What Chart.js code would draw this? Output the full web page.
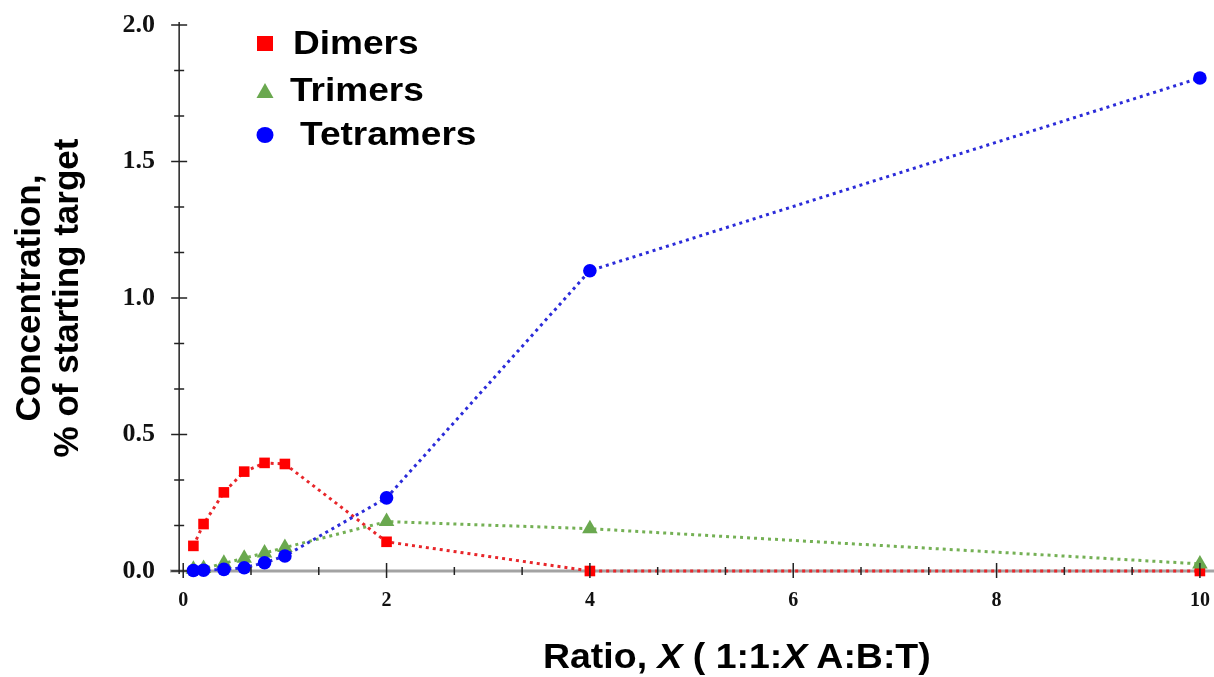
<!DOCTYPE html>
<html>
<head>
<meta charset="utf-8">
<script src="https://cdn.jsdelivr.net/npm/chart.js@4/dist/chart.umd.min.js"></script>
<style>
  body { margin: 0; background: #fff; }
  #wrap { position: relative; width: 1214px; height: 677px; }
  #xTitle {
    position: absolute; left: 543px; top: 636px; line-height: 40px;
    font: bold 35px "Liberation Sans", Arial, sans-serif; white-space: nowrap; color: #000;
    transform: scaleX(1.07); transform-origin: left center;
  }
</style>
</head>
<body>
<div id="wrap">
  <canvas id="myChart" width="1214" height="677"></canvas>
  <div id="xTitle">Ratio, <i>X</i> ( 1:1:<i>X</i> A:B:T)</div>
</div>
<script>
// values
var ratios = [0.1, 0.2, 0.4, 0.6, 0.8, 1, 2, 4, 10];
var dimers = [0.092, 0.172, 0.288, 0.364, 0.396, 0.392, 0.107, 0.0, 0.0];
var trimers = [0.006, 0.009, 0.028, 0.047, 0.066, 0.086, 0.181, 0.155, 0.026];
var tetramers = [0.002, 0.003, 0.006, 0.012, 0.03, 0.055, 0.268, 1.10, 1.806];

var seriesNames = ['Dimers', 'Trimers', 'Tetramers'];
var xTickValues = [0, 2, 4, 6, 8, 10];
var yTickValues = [0, 0.5, 1.0, 1.5, 2.0];

var serif = '"Liberation Serif", "Times New Roman", serif';
var sans = '"Liberation Sans", Arial, sans-serif';

function pairs(ys) {
  return ratios.map((x, i) => ({ x: x, y: ys[i] }));
}

// axis lines under the data, tick marks over it
var axesPlugin = {
  id: 'axes',
  beforeDatasetsDraw(chart) {
    var ctx = chart.ctx, xs = chart.scales.x, ys = chart.scales.y, area = chart.chartArea;
    var y0 = ys.getPixelForValue(0);
    var xAxisAt = xs.getPixelForValue(-0.04);
    ctx.save();
    ctx.strokeStyle = '#a3a3a3';
    ctx.lineWidth = 3;
    ctx.beginPath();
    ctx.moveTo(area.left, y0);
    ctx.lineTo(chart.width, y0);
    ctx.stroke();
    ctx.strokeStyle = '#222';
    ctx.lineWidth = 1.5;
    ctx.beginPath();
    ctx.moveTo(xAxisAt, ys.getPixelForValue(2) - 3);
    ctx.lineTo(xAxisAt, y0 + 3);
    ctx.stroke();
    ctx.restore();
  },
  afterDatasetsDraw(chart) {
    var ctx = chart.ctx, xs = chart.scales.x, ys = chart.scales.y;
    var y0 = ys.getPixelForValue(0);
    var xAxisAt = xs.getPixelForValue(-0.04);
    ctx.save();
    ctx.strokeStyle = '#222';
    ctx.lineWidth = 1.5;
    for (var k = 0; k <= 15; k++) {
      var px = xs.getPixelForValue(k * 2 / 3);
      var major = k % 3 === 0;
      ctx.beginPath();
      ctx.moveTo(px, y0 - (major ? 8 : 4));
      ctx.lineTo(px, y0 + (major ? 7 : 4));
      ctx.stroke();
    }
    for (var j = 0; j <= 12; j++) {
      var py = ys.getPixelForValue(j / 6);
      var maj = j % 3 === 0;
      ctx.beginPath();
      ctx.moveTo(xAxisAt - (maj ? 8 : 5), py);
      ctx.lineTo(xAxisAt + (maj ? 8 : 5), py);
      ctx.stroke();
    }
    ctx.restore();
  }
};

// legend placed inside the plot, top left
var legendPlugin = {
  id: 'insideLegend',
  afterDraw(chart) {
    var ctx = chart.ctx;
    var rows = [44, 91, 135];
    var textX = [293, 290, 300];
    ctx.save();
    ctx.font = 'bold 34px ' + sans;
    ctx.textBaseline = 'middle';
    seriesNames.forEach((name, i) => {
      var ds = chart.data.datasets.find(d => d.label === name);
      var cx = 265, cy = rows[i];
      ctx.fillStyle = ds.backgroundColor;
      ctx.beginPath();
      if (ds.pointStyle === 'rect') {
        ctx.rect(cx - 8, cy - 8, 16, 15);
      } else if (ds.pointStyle === 'triangle') {
        ctx.moveTo(cx, cy - 8);
        ctx.lineTo(cx + 8.5, cy + 7);
        ctx.lineTo(cx - 8.5, cy + 7);
        ctx.closePath();
      } else {
        ctx.ellipse(cx, cy, 8.5, 8, 0, 0, Math.PI * 2);
      }
      ctx.fill();
      ctx.fillStyle = '#000';
      ctx.save();
      ctx.translate(textX[i], cy + 1);
      ctx.scale(1.09, 1);
      ctx.fillText(name, 0, 0);
      ctx.restore();
    });
    ctx.restore();
  }
};

var ctx = document.getElementById('myChart').getContext('2d');
var myChart = new Chart(ctx, {
  type: 'line',
  data: {
    datasets: [
      {
        label: 'Dimers',
        data: pairs(dimers),
        borderColor: '#e8262a',
        backgroundColor: '#ff0000',
        pointStyle: 'rect',
        pointRadius: 7.5,
        order: 3
      },
      {
        label: 'Tetramers',
        data: pairs(tetramers),
        borderColor: '#2b2bd9',
        backgroundColor: '#0000ff',
        pointStyle: 'circle',
        pointRadius: 6.8,
        order: 1
      },
      {
        label: 'Trimers',
        data: pairs(trimers),
        borderColor: '#74b054',
        backgroundColor: '#6aa84f',
        pointStyle: 'triangle',
        pointRadius: 9,
        order: 2
      }
    ]
  },
  options: {
    responsive: false,
    animation: false,
    layout: { padding: { top: 25, right: 2 } },
    elements: {
      line: { borderWidth: 3, borderDash: [3, 4], tension: 0, fill: false },
      point: { borderWidth: 0, hoverRadius: 7 }
    },
    datasets: { line: { clip: false } },
    plugins: {
      legend: { display: false },
      tooltip: { enabled: false }
    },
    scales: {
      x: {
        type: 'linear',
        min: -0.13,
        max: 10.05,
        grid: { display: false, drawTicks: false },
        border: { display: false },
        afterBuildTicks: s => { s.ticks = xTickValues.map(v => ({ value: v })); },
        afterFit: s => { s.height = 106; s.paddingLeft = 0; s.paddingRight = 0; },
        ticks: {
          padding: 18,
          color: '#111',
          font: { family: serif, weight: 'bold', size: 20 },
          callback: v => String(v)
        }
      },
      y: {
        min: 0,
        max: 2.0,
        grid: { display: false, drawTicks: false },
        border: { display: false },
        afterBuildTicks: s => { s.ticks = yTickValues.map(v => ({ value: v })); },
        afterFit: s => { s.width = 170; s.paddingTop = 0; s.paddingBottom = 0; },
        ticks: {
          padding: 15,
          color: '#111',
          font: { family: serif, weight: 'bold', size: 26 },
          callback: v => v.toFixed(1)
        },
        title: {
          display: true,
          text: ['Concentration,', '% of starting target'],
          color: '#000',
          font: { family: sans, weight: 'bold', size: 35, lineHeight: 1.1 },
          padding: { top: 11, bottom: 0 }
        }
      }
    }
  },
  plugins: [axesPlugin, legendPlugin]
});
</script>
</body>
</html>
